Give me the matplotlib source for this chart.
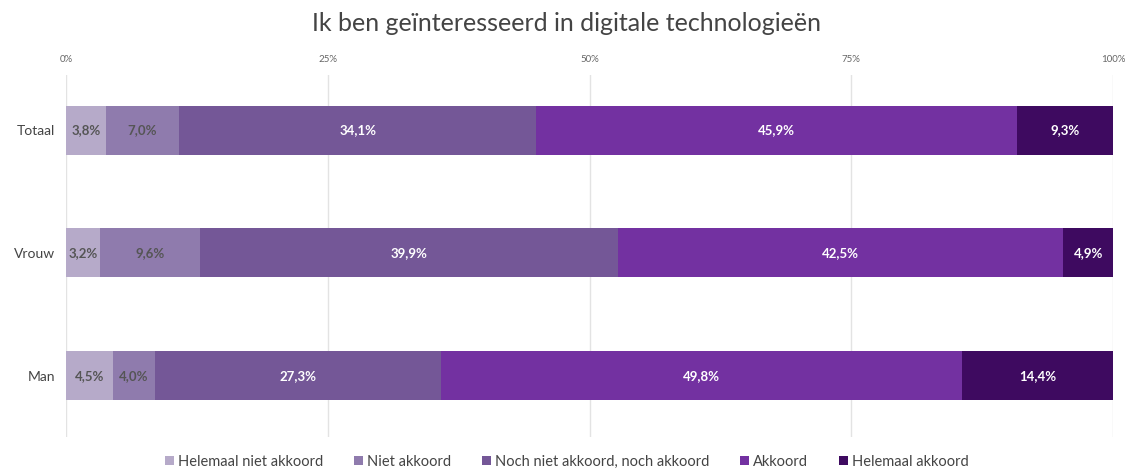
import numpy as np
import matplotlib
matplotlib.use("Agg")
import matplotlib.pyplot as plt
from matplotlib.ticker import FixedLocator

# ── Data ───────────────────────────────────────────────────────────────────
groups = ["Totaal", "Vrouw", "Man"]
categories = ["Helemaal niet akkoord", "Niet akkoord",
              "Noch niet akkoord, noch akkoord", "Akkoord", "Helemaal akkoord"]
helemaal_niet = [3.8, 3.2, 4.5]
niet = [7.0, 9.6, 4.0]
noch = [34.1, 39.9, 27.3]
akkoord = [45.9, 42.5, 49.8]
helemaal = [9.3, 4.9, 14.4]
tick_vals = [0, 25, 50, 75, 100]

series = [helemaal_niet, niet, noch, akkoord, helemaal]
colors = ["#b6aac9", "#8f7bad", "#745797", "#7331a1", "#3e0a60"]
text_colors = ["#555555", "#555555", "#ffffff", "#ffffff", "#ffffff"]

plt.rcParams["font.family"] = ["Lato", "DejaVu Sans"]

fig = plt.figure(figsize=(11.34, 4.75), dpi=100, facecolor="white")
ax = fig.add_axes([0.0582, 0.08, 0.9233, 0.762])

y = np.arange(len(groups))
left = np.zeros(len(groups))
for vals, col, tcol, name in zip(series, colors, text_colors, categories):
    vals = np.array(vals)
    ax.barh(y, vals, left=left, height=0.4, color=col, label=name, zorder=2)
    for yi, (l, v) in enumerate(zip(left, vals)):
        ax.text(l + v / 2, yi, f"{v:.1f}%".replace(".", ","), ha="center",
                va="center", fontsize=9.5, color=tcol, fontweight="bold", zorder=3)
    left += vals

ax.set_xlim(0, 100)
ax.set_ylim(2.5, -0.45)
ax.set_yticks(y)
ax.set_yticklabels(groups, fontsize=10, color="#444444")
ax.xaxis.set_major_locator(FixedLocator(tick_vals))
ax.set_xticklabels([f"{v}%" for v in tick_vals], fontsize=7, color="#666666")
ax.xaxis.tick_top()
ax.tick_params(axis="both", length=0)
ax.tick_params(axis="y", pad=8)
ax.tick_params(axis="x", pad=8)
ax.grid(axis="x", color="#e3e3e3", lw=1, zorder=0)
for s in ax.spines.values():
    s.set_visible(False)

fig.suptitle("Ik ben geïnteresseerd in digitale technologieën", fontsize=18,
             color="#444444", y=0.975)

fig.legend(loc="lower center", bbox_to_anchor=(0.5, -0.015), ncol=5, frameon=False,
           fontsize=10.5, handlelength=0.6, handleheight=0.6, handletextpad=0.3,
           columnspacing=2.1, labelcolor="#444444")

fig.savefig("out.png", dpi=100, facecolor="white")
